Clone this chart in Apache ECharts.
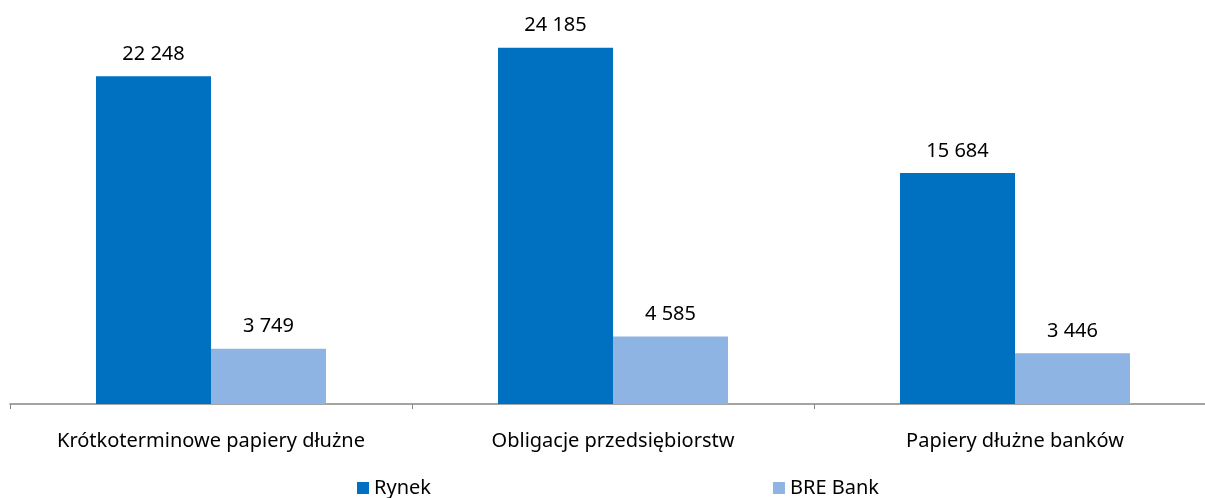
<!DOCTYPE html>
<html><head><meta charset="utf-8">
<script src="https://cdn.jsdelivr.net/npm/echarts@6/dist/echarts.min.js"></script>
<style>html,body{margin:0;padding:0;background:#fff;overflow:hidden;width:1205px;height:498px}#c{width:1230px;height:498px}</style>
</head><body><div id="c"></div>
<script>
var categories = ["Krótkoterminowe papiery dłużne", "Obligacje przedsiębiorstw", "Papiery dłużne banków"];
var rynek = [22248, 24185, 15684];
var bre = [3749, 4585, 3446];
var seriesNames = ["Rynek", "BRE Bank"];

var FONT = "Noto Sans";
function fmt(v){ return String(v).replace(/\B(?=(\d{3})+(?!\d))/g, " "); }
var chart = echarts.init(document.getElementById('c'));
chart.setOption({
  animation: false,
  textStyle: {fontFamily: FONT},
  grid: {left: 10, top: 10, width: 1206, height: 394, containLabel: false},
  legend: {
    left: 357, top: 478, itemWidth: 12, itemHeight: 12, itemGap: 342,
    icon: 'rect', padding: 0,
    textStyle: {fontFamily: FONT, fontSize: 20, color: '#000'},
    data: seriesNames
  },
  xAxis: {
    type: 'category', data: categories,
    axisLine: {lineStyle: {color: '#878787', width: 1.5}},
    axisTick: {show: true, length: 5, lineStyle: {color: '#878787'}},
    axisLabel: {fontFamily: FONT, fontSize: 20, color: '#000', margin: 27}
  },
  yAxis: {type: 'value', min: 0, max: 26750, show: false, splitLine: {show: false}},
  series: [
    {name: seriesNames[0], type: 'bar', data: rynek, barWidth: 115, barGap: '0%',
     itemStyle: {color: '#0070C0'},
     label: {show: true, position: 'top', distance: 12, fontFamily: FONT, fontSize: 20, color: '#000', formatter: function(p){return fmt(p.value);}}},
    {name: seriesNames[1], type: 'bar', data: bre, barWidth: 115, barGap: '0%',
     itemStyle: {color: '#8EB4E3'},
     label: {show: true, position: 'top', distance: 12, fontFamily: FONT, fontSize: 20, color: '#000', formatter: function(p){return fmt(p.value);}}}
  ]
});
</script></body></html>
